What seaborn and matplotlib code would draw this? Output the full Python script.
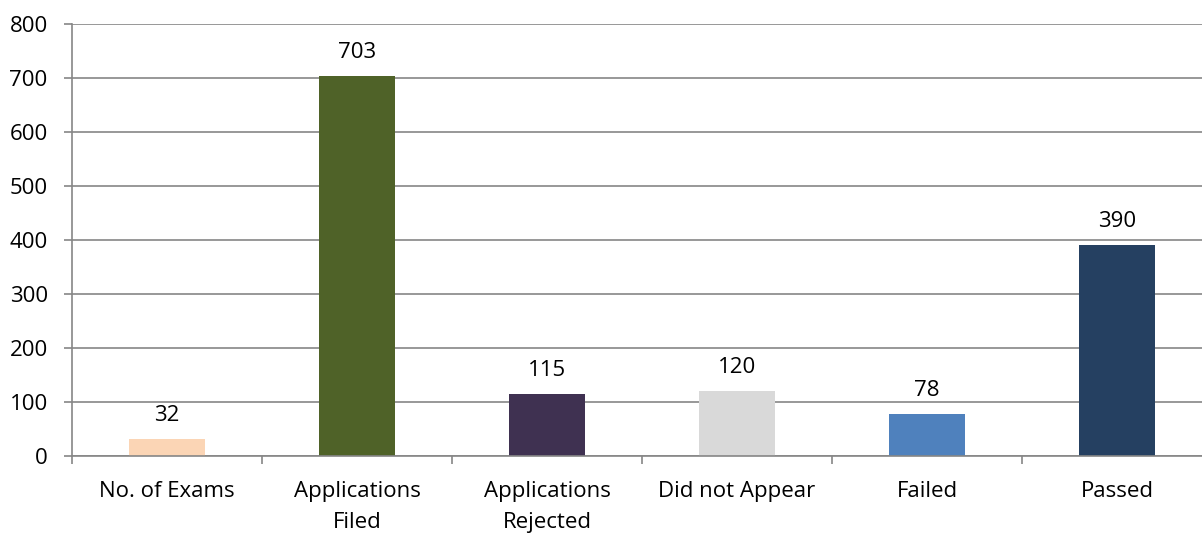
import matplotlib
matplotlib.use("Agg")
import matplotlib.pyplot as plt
import seaborn as sns
import pandas as pd
from matplotlib.ticker import FixedLocator

categories = ["No. of Exams", "Applications\nFiled", "Applications\nRejected",
              "Did not Appear", "Failed", "Passed"]
values = [32, 703, 115, 120, 78, 390]
colors = ["#FBD5B5", "#4F6228", "#3F3151", "#D9D9D9", "#4F81BD", "#254061"]
yticks = [0, 100, 200, 300, 400, 500, 600, 700, 800]

sns.set_theme(style="white")
plt.rcParams['font.family'] = ['Open Sans', 'DejaVu Sans']

df = pd.DataFrame({"cat": categories, "val": values})

fig = plt.figure(figsize=(12.02, 5.35), dpi=100)
ax = fig.add_axes([0.0599, 0.1477, 0.9484, 0.8075])
sns.barplot(data=df, x="cat", y="val", hue="cat", palette=colors, dodge=False,
            legend=False, width=0.405, saturation=1, linewidth=0, ax=ax)

grid_c = "#868686"
ax.set_ylim(0, 800)
ax.set_xlim(-0.5, len(categories) - 0.5)
ax.set_yticks(yticks)
ax.yaxis.grid(True, color=grid_c, linewidth=1.2)
ax.set_axisbelow(True)
for s in ["top", "right"]:
    ax.spines[s].set_visible(False)
ax.spines["left"].set_color(grid_c)
ax.spines["bottom"].set_color(grid_c)
ax.spines["left"].set_linewidth(1.2)
ax.spines["bottom"].set_linewidth(1.2)
ax.set_xlabel("")
ax.set_ylabel("")
ax.tick_params(axis="y", which="major", length=5.5, width=1.2, color=grid_c,
               direction="out", labelsize=16, pad=12, left=True, labelcolor="black")
ax.tick_params(axis="x", which="major", length=0, labelsize=16, pad=18, labelcolor="black")
for lbl in ax.get_xticklabels():
    lbl.set_linespacing(1.6)
ax.xaxis.set_minor_locator(FixedLocator([i - 0.5 for i in range(len(categories) + 1)]))
ax.tick_params(axis="x", which="minor", length=5.5, width=1.2, color=grid_c,
               direction="out", bottom=True)

for i, v in enumerate(values):
    ax.annotate(str(v), (i, v), xytext=(0, 18), textcoords="offset pixels",
                ha="center", va="baseline", fontsize=16, color="black")

fig.savefig("out.png", dpi=100)
